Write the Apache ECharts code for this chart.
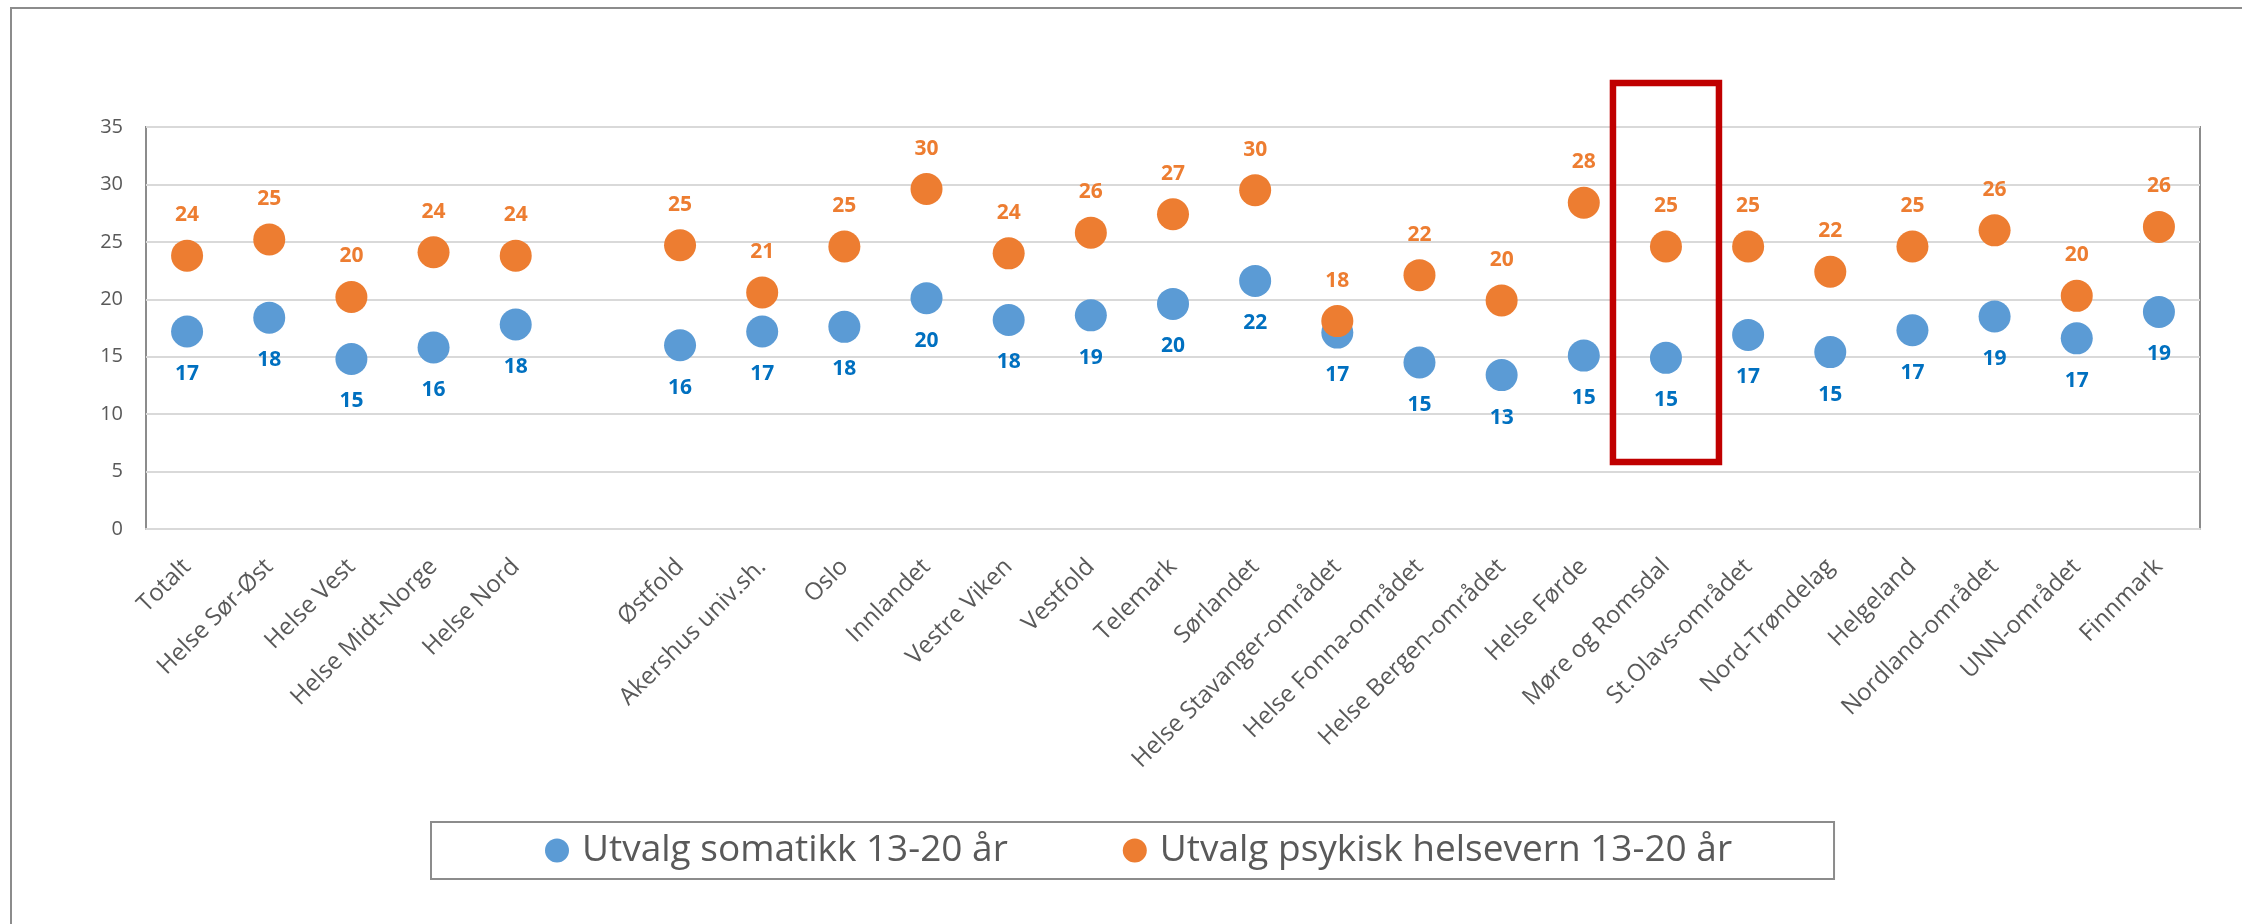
<!DOCTYPE html>
<html>
<head>
<meta charset="utf-8">
<script src="https://cdn.jsdelivr.net/npm/echarts@6/dist/echarts.min.js"></script>
<style>
  html, body { margin: 0; padding: 0; background: #ffffff; }
  #chart { width: 2242px; height: 924px; }
</style>
</head>
<body>
<div id="chart"></div>
<script>
const categories = [
  'Totalt', 'Helse Sør-Øst', 'Helse Vest', 'Helse Midt-Norge', 'Helse Nord', '',
  'Østfold', 'Akershus univ.sh.', 'Oslo', 'Innlandet', 'Vestre Viken', 'Vestfold',
  'Telemark', 'Sørlandet', 'Helse Stavanger-området', 'Helse Fonna-området',
  'Helse Bergen-området', 'Helse Førde', 'Møre og Romsdal', 'St.Olavs-området',
  'Nord-Trøndelag', 'Helgeland', 'Nordland-området', 'UNN-området', 'Finnmark'
];
const somatikk = [17.2, 18.4, 14.8, 15.8, 17.8, null, 16.0, 17.2, 17.6, 20.1, 18.2, 18.6, 19.6, 21.6, 17.1, 14.5, 13.4, 15.1, 14.9, 16.9, 15.4, 17.3, 18.5, 16.6, 18.9];
const psykisk  = [23.8, 25.2, 20.2, 24.1, 23.8, null, 24.7, 20.6, 24.6, 29.6, 24.0, 25.8, 27.4, 29.5, 18.1, 22.1, 19.9, 28.4, 24.6, 24.6, 22.4, 24.6, 26.0, 20.3, 26.3];
const seriesNames = ['Utvalg somatikk 13-20 år', 'Utvalg psykisk helsevern 13-20 år'];
const yMin = 0, yMax = 35, yInterval = 5;
const highlighted = 'Møre og Romsdal';

const FONT = 'Open Sans';
const chart = echarts.init(document.getElementById('chart'), null, { renderer: 'canvas' });

function fmt(p) {
  const v = Array.isArray(p.value) ? p.value[1] : p.value;
  return Math.round(v);
}

const option = {
  backgroundColor: '#ffffff',
  animation: false,
  grid: { left: 146, right: 42, top: 127, bottom: 395, show: true, borderColor: '#8c8c8c', borderWidth: 2, backgroundColor: 'transparent' },
  legend: {
    left: 431, top: 822,
    orient: 'horizontal',
    icon: 'circle', itemWidth: 24, itemHeight: 24, itemGap: 115,
    borderColor: '#8c8c8c', borderWidth: 2,
    padding: [10, 102, 10, 114],
    textStyle: { fontFamily: FONT, fontSize: 37, color: '#595959', padding: [0, 0, 0, 8] },
    data: seriesNames
  },
  xAxis: {
    type: 'category', data: categories, boundaryGap: true,
    axisTick: { show: false },
    axisLine: { show: true, lineStyle: { color: '#d9d9d9', width: 2 } },
    axisLabel: { interval: 0, rotate: 45, margin: 34, fontFamily: FONT, fontSize: 24, color: '#595959' },
    splitLine: { show: false }
  },
  yAxis: {
    type: 'value', min: yMin, max: yMax, interval: yInterval,
    axisLine: { show: false }, axisTick: { show: false },
    axisLabel: { margin: 23, fontFamily: FONT, fontSize: 20, color: '#595959' },
    splitLine: { lineStyle: { color: '#d9d9d9', width: 2 } }
  },
  series: [
    {
      name: seriesNames[0], type: 'scatter', data: somatikk, symbol: 'circle', symbolSize: 32,
      itemStyle: { color: '#5B9BD5', opacity: 1 },
      label: { show: true, position: 'bottom', distance: 16, formatter: fmt, fontFamily: FONT, fontWeight: 'bold', fontSize: 21, color: '#0070C0' },
      z: 3
    },
    {
      name: seriesNames[1], type: 'scatter', data: psykisk, symbol: 'circle', symbolSize: 32,
      itemStyle: { color: '#ED7D31', opacity: 1 },
      label: { show: true, position: 'top', distance: 14, formatter: fmt, fontFamily: FONT, fontWeight: 'bold', fontSize: 21, color: '#ED7D31' },
      z: 4
    }
  ]
};
chart.setOption(option);

const cx = chart.convertToPixel({ xAxisIndex: 0 }, highlighted);
const yTop = chart.convertToPixel({ yAxisIndex: 0 }, yMax);
const yZero = chart.convertToPixel({ yAxisIndex: 0 }, yMin);
chart.setOption({
  graphic: [
    {
      type: 'rect', silent: true, z: 0,
      shape: { x: 11, y: 8, width: 2400, height: 1200 },
      style: { fill: null, stroke: '#8c8c8c', lineWidth: 2 }
    },
    {
      type: 'rect', silent: true, z: 100,
      shape: { x: cx - 53, y: yTop - 44, width: 106, height: (yZero - 67) - (yTop - 44) },
      style: { fill: null, stroke: '#C00000', lineWidth: 6.5 }
    }
  ]
});
</script>
</body>
</html>
